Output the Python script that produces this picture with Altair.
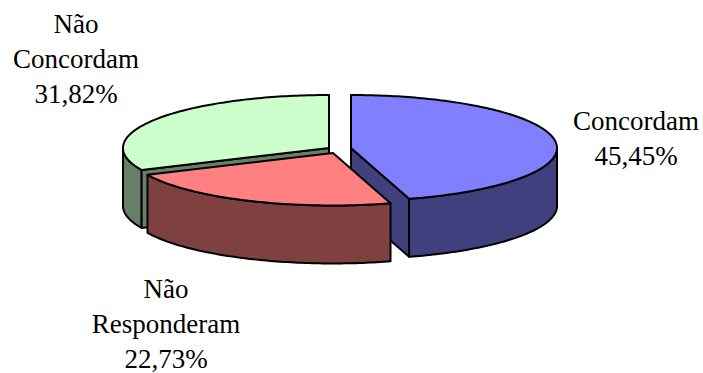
import altair as alt
import numpy as np
import pandas as pd

# Slice values, in drawing order around the pie (clockwise from 12 o'clock)
names = ["Concordam", "Não Responderam", "Não Concordam"]
shares = [45.45, 22.73, 31.82]

top_colors = ["#8080FF", "#FF8080", "#CCFFCC"]
side_colors = ["#40407F", "#7F4040", "#667F66"]

# Pie geometry in unit-circle space: exploded centre of each slice, radial shrink and wall height
offsets_x = [0.0534, -0.034, -0.0534]
offsets_y = [0.0, 0.0943, 0.0]
radial = [1.0, 0.99, 1.0]
wall = 1.094

# Label lines as (text, x, baseline y)
label_rows = [
    ("Concordam", 636, 130),
    ("45,45%", 636, 165),
    ("Não", 76, 33),
    ("Concordam", 76, 68),
    ("31,82%", 76, 103),
    ("Não", 166, 298),
    ("Responderam", 166, 333),
    ("22,73%", 166, 368),
]

W, H = 703, 373
RX, RY = 206.0, 53.0
CX, CY = 340.0, 148.0
x_scale = alt.Scale(domain=[-CX / RX, (W - CX) / RX], range=[0, W], nice=False, zero=False)
y_scale = alt.Scale(domain=[-CY / RY, (H - CY) / RY], range=[0, H], nice=False, zero=False)


def rim(a0, a1, k, drop=0.0):
    """Points along the rim of slice k between two clockwise angles (degrees from the top)."""
    t = np.radians(np.linspace(a0, a1, max(int(abs(a1 - a0)), 2) + 1))
    s = radial[k]
    return list(zip(offsets_x[k] + s * np.sin(t), offsets_y[k] - s * np.cos(t) + drop))


def centre(k, drop=0.0):
    return (offsets_x[k], offsets_y[k] + drop)


def face(points, fill):
    df = pd.DataFrame(points, columns=["x", "y"])
    df["i"] = range(len(df))
    return (
        alt.Chart(df)
        .mark_line(fill=fill, stroke="black", strokeWidth=2, strokeJoin="round", filled=False, interpolate="linear-closed")
        .encode(
            x=alt.X("x:Q", scale=x_scale, axis=None),
            y=alt.Y("y:Q", scale=y_scale, axis=None),
            order="i:Q",
        )
    )


cum = np.cumsum([0.0] + shares) / sum(shares) * 360.0

layers = []

# Green slice first: it sits behind the others
g = 2
layers.append(face(rim(cum[g], 270, g) + rim(270, cum[g], g, wall), side_colors[g]))
layers.append(face([centre(g)] + rim(cum[g], cum[g], g)[:1] + rim(cum[g], cum[g], g, wall)[:1] + [centre(g, wall)], side_colors[g]))
layers.append(face([centre(g)] + rim(cum[g], cum[g + 1], g), top_colors[g]))

# Blue slice: cut wall, outer wall, top
b = 0
layers.append(face([centre(b)] + rim(cum[1], cum[1], b)[:1] + rim(cum[1], cum[1], b, wall)[:1] + [centre(b, wall)], side_colors[b]))
layers.append(face(rim(90, cum[1], b) + rim(cum[1], 90, b, wall), side_colors[b]))
layers.append(face([centre(b)] + rim(cum[0], cum[1], b), top_colors[b]))

# Red slice is pulled towards the viewer and drawn last
r = 1
layers.append(face(rim(cum[1], cum[2], r) + rim(cum[2], cum[1], r, wall), side_colors[r]))
layers.append(face([centre(r)] + rim(cum[1], cum[2], r), top_colors[r]))

labels = pd.DataFrame(label_rows, columns=["text", "px", "py"])
text = (
    alt.Chart(labels)
    .mark_text(font="Liberation Serif", fontSize=27, color="black", align="center", baseline="alphabetic")
    .encode(
        x=alt.X("px:Q", scale=None, axis=None),
        y=alt.Y("py:Q", scale=None, axis=None),
        text="text:N",
    )
)

chart = (
    alt.layer(*layers, text)
    .resolve_scale(x="shared", y="shared")
    .properties(width=W, height=H, padding=0, background="white", autosize=alt.AutoSizeParams(type="none"))
    .configure_view(stroke=None)
)

chart.save("out.html", embed_options={"renderer": "svg", "actions": False})
